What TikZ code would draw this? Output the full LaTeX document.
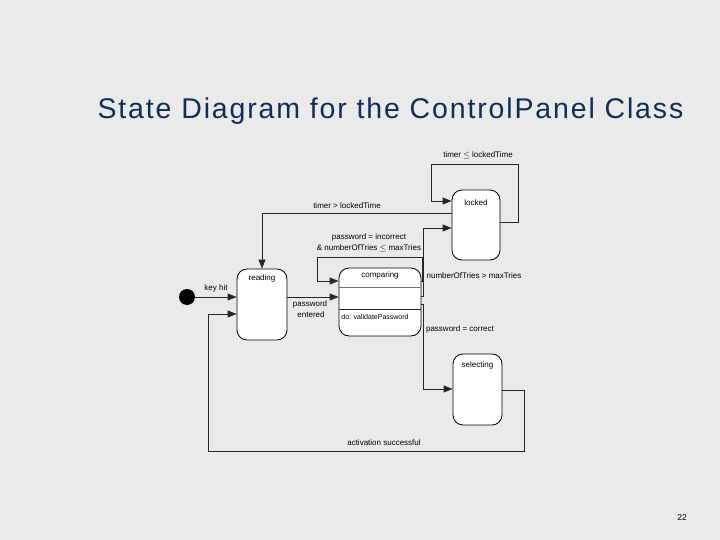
\documentclass[tikz,border=0pt]{standalone}
\usepackage{fontspec}
\setmainfont{Liberation Sans}
\usetikzlibrary{arrows.meta,calc}
\definecolor{titleblue}{RGB}{16,46,90}
\definecolor{bg}{RGB}{234,234,234}
\begin{document}
\begin{tikzpicture}[x=1pt,y=-1pt,
  statebox/.style={draw=black, fill=white, rounded corners=10pt, line width=0.8pt, inner sep=0pt},
  lbl/.style={font=\fontsize{8}{9}\selectfont, inner sep=0pt},
  conn/.style={draw=black!85, line width=0.8pt},
  arr/.style={conn, -{Triangle[length=9pt,width=7pt]}}]
\fill[fill=bg] (0,0) rectangle (720,540);
\useasboundingbox (0,0) rectangle (720,540);
\node[font=\fontsize{28.5}{32}\selectfont\addfontfeatures{LetterSpace=6.5}, text=titleblue] (title) at (390.5,111) {State Diagram for the ControlPanel Class};
\node[font=\fontsize{8.5}{10}\selectfont] (page) at (682,518) {22};
% states
\node[statebox, minimum width=50pt, minimum height=71pt] (reading) at (262,304.5) {};
\node[lbl] (readingT) at ([yshift=-10pt]reading.north) {reading};
\node[statebox, minimum width=82pt, minimum height=68pt] (comparing) at (380,302) {};
\node[lbl] (comparingT) at ([yshift=-8pt]comparing.north) {comparing};
\draw[conn, draw=black!55] (comparing.west |- 0,287) -- (comparing.east |- 0,287);
\draw[conn] (comparing.west |- 0,309) -- (comparing.east |- 0,309);
\node[lbl, font=\fontsize{7}{8}\selectfont] (doT) at (375,317) {do: validatePassword};
\node[statebox, minimum width=48pt, minimum height=70pt] (locked) at (476,225) {};
\node[lbl] (lockedT) at ([yshift=-13pt]locked.north) {locked};
\node[statebox, minimum width=49pt, minimum height=71pt] (selecting) at (477.5,389.5) {};
\node[lbl] (selectingT) at ([yshift=-12pt]selecting.north) {selecting};
\node[circle, fill=black, minimum size=16pt, inner sep=0pt] (init) at (187,297) {};
% connectors
\draw[arr] (init.east) -- (reading.west |- init);
\node[lbl] at (216,288) {key hit};
\draw[arr] (locked.west |- 0,213) -| (reading.north);
\node[lbl] at (347,206) {timer > lockedTime};
\draw[arr] (locked.east |- 0,222) -- (518,222) -- (518,164) -- (431,164) -- (431,201) -- (locked.west |- 0,201);
\node[lbl] at (478,155) {timer $\le$ lockedTime};
\draw[arr] (comparing.east |- 0,281) -- (422,281) -- (422,257) -- (317,257) -- (317,281) -- (comparing.west |- 0,281);
\node[lbl] at (369,237) {password = incorrect};
\node[lbl] at (369,248) {\& numberOfTries $\le$ maxTries};
\draw[arr] (reading.east |- 0,297) -- (comparing.west |- 0,297);
\node[lbl] at (310,304) {password};
\node[lbl] at (311,315) {entered};
\draw[arr] (comparing.east |- 0,296) -- (423,296) -- (423,228) -- (locked.west |- 0,228);
\node[lbl] at (474,276) {numberOfTries > maxTries};
\draw[arr] (comparing.east |- 0,304) -- (423,304) -- (423,389) -- (selecting.west |- 0,389);
\node[lbl] at (460,329) {password = correct};
\draw[arr] (selecting.east |- 0,390) -- (524,390) -- (524,451) -- (208,451) -- (208,314) -- (reading.west |- 0,314);
\node[lbl] at (384,443) {activation successful};
\end{tikzpicture}
\end{document}
